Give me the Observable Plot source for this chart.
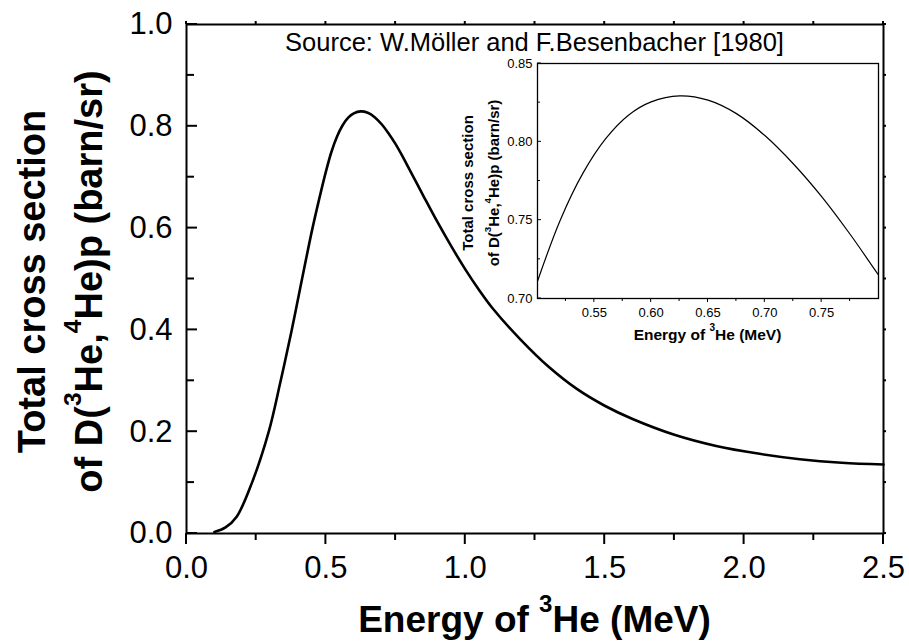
<!DOCTYPE html>
<html>
<head>
<meta charset="utf-8">
<script src="https://cdn.jsdelivr.net/npm/d3@7"></script>
<script src="https://cdn.jsdelivr.net/npm/@observablehq/plot@0.6"></script>
<style>
  html, body { margin: 0; padding: 0; background: #fff; }
  #chart > svg { display: block; }
</style>
</head>
<body>
<div id="chart"></div>
<script>
// ---- data ----
const energy = [0.10, 0.14, 0.18, 0.235, 0.295, 0.337, 0.376, 0.41, 0.45, 0.475,
  0.50, 0.52, 0.54, 0.56, 0.58, 0.60, 0.625, 0.65, 0.675, 0.70,
  0.725, 0.75, 0.775, 0.80, 0.85, 0.90, 0.95, 1.00, 1.05, 1.10,
  1.20, 1.30, 1.40, 1.50, 1.60, 1.75, 1.90, 2.05, 2.20, 2.35, 2.50];
const crossSection = [0.003, 0.012, 0.033, 0.100, 0.200, 0.298, 0.396, 0.488, 0.595, 0.655,
  0.711, 0.750, 0.780, 0.802, 0.817, 0.8255, 0.8293, 0.8266, 0.818, 0.804,
  0.786, 0.765, 0.741, 0.715, 0.663, 0.612, 0.564, 0.519, 0.478, 0.441,
  0.380, 0.327, 0.284, 0.251, 0.225, 0.194, 0.172, 0.157, 0.146, 0.139, 0.1355];

const xDomain = [0, 2.5];
const yDomain = [0, 1.0];
const xMajorTicks = [0, 0.5, 1.0, 1.5, 2.0, 2.5];
const xMinorTicks = [0.25, 0.75, 1.25, 1.75, 2.25];
const yMajorTicks = [0, 0.2, 0.4, 0.6, 0.8, 1.0];
const yMinorTicks = [0.1, 0.3, 0.5, 0.7, 0.9];

const insetXDomain = [0.5, 0.8];
const insetYDomain = [0.70, 0.85];
const insetXTicks = [0.55, 0.60, 0.65, 0.70, 0.75];
const insetXMinor = [0.525, 0.575, 0.625, 0.675, 0.725, 0.775];
const insetYTicks = [0.70, 0.75, 0.80, 0.85];
const insetYMinor = [0.725, 0.775, 0.825];

const sourceText = "Source: W.Möller and F.Besenbacher [1980]";
const xTitleParts = [["Energy of ", false], ["3", true], ["He (MeV)", false]];
const yTitleLine1 = [["Total cross section", false]];
const yTitleLine2 = [["of D(", false], ["3", true], ["He,", false], ["4", true], ["He)p (barn/sr)", false]];

const data = energy.map((e, i) => ({energy: e, sigma: crossSection[i]}));

const FONT = "Arial, 'Liberation Sans', Helvetica, sans-serif";

// ---- helpers ----
function ticksMark(values, axis, side, len, sw) {
  // positive len = outward from the frame, negative = inward
  return (index, scales, vals, dims) => {
    const g = d3.create("svg:g").attr("stroke", "black").attr("stroke-width", sw).attr("stroke-linecap", "butt");
    const left = dims.marginLeft, right = dims.width - dims.marginRight;
    const top = dims.marginTop, bottom = dims.height - dims.marginBottom;
    for (const v of values) {
      if (axis === "x") {
        const x = scales.x(v);
        const y0 = side === "bottom" ? bottom : top;
        const dir = side === "bottom" ? 1 : -1;
        g.append("line").attr("x1", x).attr("x2", x).attr("y1", y0).attr("y2", y0 + dir * len);
      } else {
        const y = scales.y(v);
        const x0 = side === "left" ? left : right;
        const dir = side === "left" ? -1 : 1;
        g.append("line").attr("y1", y).attr("y2", y).attr("x1", x0).attr("x2", x0 + dir * len);
      }
    }
    return g.node();
  };
}

function richText(textSel, parts, size, supScale, supShift) {
  let shifted = false;
  for (const [s, sup] of parts) {
    const t = textSel.append("tspan").text(s);
    if (sup) {
      t.attr("font-size", size * supScale).attr("dy", -size * supShift);
      shifted = true;
    } else if (shifted) {
      t.attr("dy", size * supShift);
      shifted = false;
    }
  }
}

function labelMark(build) {
  return (index, scales, vals, dims) => {
    const g = d3.create("svg:g").attr("font-family", FONT).attr("fill", "black");
    build(g, scales, dims);
    return g.node();
  };
}

// ---- inset ----
const INSET_W = 445, INSET_H = 295;
function buildInset() {
  const inset = Plot.plot({
    width: INSET_W,
    height: INSET_H,
    marginLeft: 97,
    marginRight: 7,
    marginTop: 8,
    marginBottom: 52,
    style: {fontFamily: FONT, color: "black", background: "transparent", overflow: "visible"},
    x: {domain: insetXDomain},
    y: {domain: insetYDomain},
    marks: [
      Plot.line(data, {x: "energy", y: "sigma", curve: "catmull-rom", stroke: "black", strokeWidth: 1.2, clip: true}),
      Plot.frame({stroke: "black", strokeWidth: 1.3}),
      ticksMark(insetXTicks, "x", "bottom", 4, 1),
      ticksMark(insetXMinor, "x", "bottom", 3, 1),
      ticksMark(insetYTicks, "y", "left", -4, 1),
      ticksMark(insetYMinor, "y", "left", -3, 1),
      Plot.axisX({ticks: insetXTicks, tickSize: 0, tickPadding: 9, tickFormat: d3.format(".2f"), label: null, fontSize: 13}),
      Plot.axisY({ticks: insetYTicks, tickSize: 0, tickPadding: 5, tickFormat: d3.format(".2f"), label: null, fontSize: 13}),
      labelMark((g, scales, dims) => {
        const cx = (dims.marginLeft + dims.width - dims.marginRight) / 2;
        const t = g.append("text").attr("x", cx).attr("y", dims.height - 10)
          .attr("text-anchor", "middle").attr("font-weight", "bold").attr("font-size", 15.5);
        richText(t, xTitleParts, 15.5, 0.65, 0.55);
        const cy = 128;
        const t1 = g.append("text").attr("transform", `translate(33,${cy}) rotate(-90)`)
          .attr("text-anchor", "middle").attr("font-weight", "bold").attr("font-size", 15);
        richText(t1, yTitleLine1, 15, 0.65, 0.55);
        const t2 = g.append("text").attr("transform", `translate(59,${cy}) rotate(-90)`)
          .attr("text-anchor", "middle").attr("font-weight", "bold").attr("font-size", 15);
        richText(t2, yTitleLine2, 15, 0.65, 0.55);
      })
    ]
  });
  inset.style.width = INSET_W + "px";
  inset.style.height = INSET_H + "px";
  inset.style.maxWidth = "none";
  inset.setAttribute("width", INSET_W);
  inset.setAttribute("height", INSET_H);
  return inset;
}

// ---- main chart ----
const chart = Plot.plot({
  width: 909,
  height: 641,
  marginLeft: 186,
  marginRight: 26,
  marginTop: 24,
  marginBottom: 108,
  style: {fontFamily: FONT, color: "black", background: "white", overflow: "visible"},
  x: {domain: xDomain},
  y: {domain: yDomain},
  marks: [
    Plot.line(data, {x: "energy", y: "sigma", curve: "catmull-rom", stroke: "black", strokeWidth: 2.6}),
    Plot.frame({stroke: "black", strokeWidth: 2}),
    ticksMark(xMajorTicks, "x", "bottom", 11, 2),
    ticksMark(xMinorTicks, "x", "bottom", 7, 2),
    ticksMark(xMajorTicks.concat(xMinorTicks), "x", "top", 3, 2),
    ticksMark(yMajorTicks, "y", "left", -11, 2),
    ticksMark(yMinorTicks, "y", "left", -8, 2),
    ticksMark(yMajorTicks.concat(yMinorTicks), "y", "right", 3, 2),
    Plot.axisX({ticks: xMajorTicks, tickSize: 0, tickPadding: 22, tickFormat: d3.format(".1f"), label: null, fontSize: 31}),
    Plot.axisY({ticks: yMajorTicks, tickSize: 0, tickPadding: 14, tickFormat: d3.format(".1f"), label: null, fontSize: 31}),
    labelMark((g, scales, dims) => {
      const cx = (dims.marginLeft + dims.width - dims.marginRight) / 2;
      const cy = (dims.marginTop + dims.height - dims.marginBottom) / 2;
      const tx = g.append("text").attr("x", cx).attr("y", 632)
        .attr("text-anchor", "middle").attr("font-weight", "bold").attr("font-size", 37);
      richText(tx, xTitleParts, 37, 0.65, 0.55);
      const t1 = g.append("text").attr("transform", `translate(45,${cy + 3}) rotate(-90)`)
        .attr("text-anchor", "middle").attr("font-weight", "bold").attr("font-size", 38);
      richText(t1, yTitleLine1, 38, 0.65, 0.55);
      const t2 = g.append("text").attr("transform", `translate(102,${cy + 3}) rotate(-90)`)
        .attr("text-anchor", "middle").attr("font-weight", "bold").attr("font-size", 38);
      richText(t2, yTitleLine2, 38, 0.65, 0.55);
      g.append("text").attr("x", cx).attr("y", 51).attr("text-anchor", "middle")
        .attr("font-size", 25.5).text(sourceText);
    }),
    () => {
      const s = buildInset();
      s.setAttribute("x", 440);
      s.setAttribute("y", 55);
      return s;
    }
  ]
});

document.getElementById("chart").appendChild(chart);
</script>
</body>
</html>
